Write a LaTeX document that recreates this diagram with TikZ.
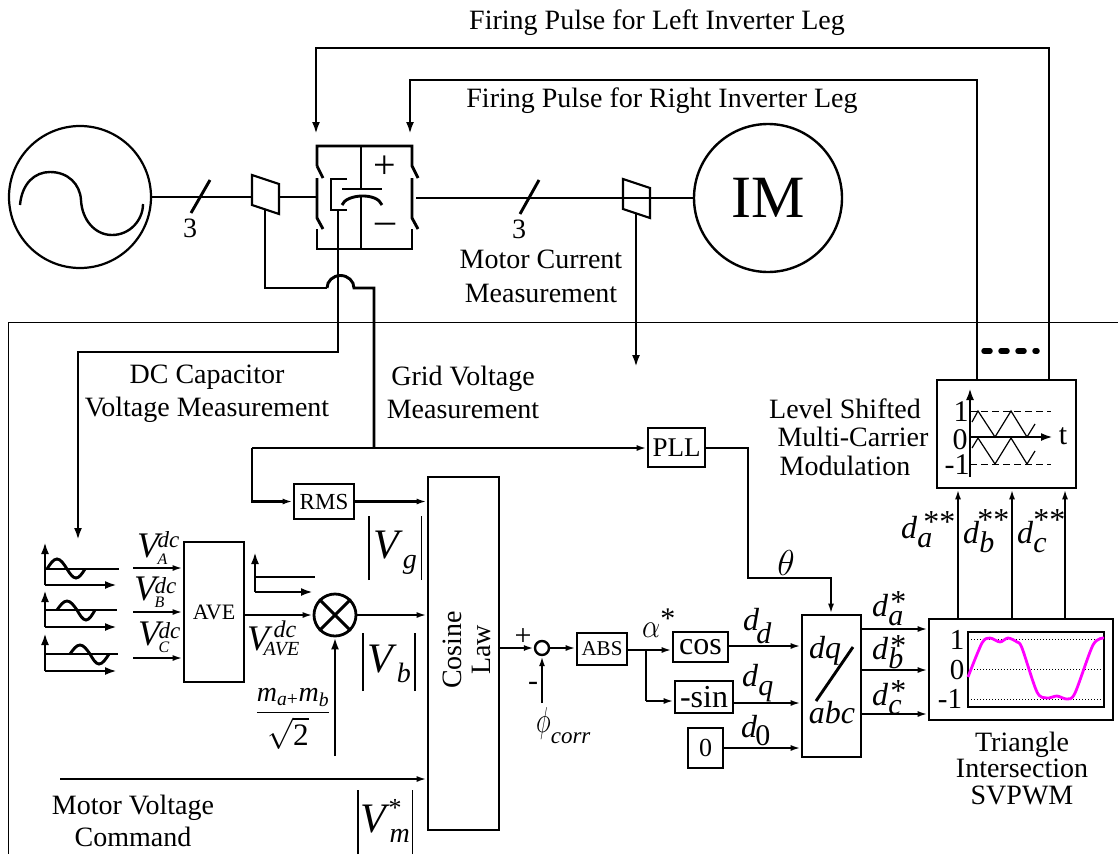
\documentclass[tikz,border=0pt]{standalone}
\usepackage{amsmath}
\usepackage{fontspec}
\setmainfont{Liberation Serif}
\usetikzlibrary{arrows.meta}
\definecolor{curvecol}{RGB}{255,0,255}
\newcommand{\fs}[1]{\fontsize{#1}{#1}\selectfont}
% sizes of the indices are set by hand, they are not math scripts in the picture
\newcommand{\vdc}[2]{\textit{V}\kern-5pt\rlap{\raisebox{#2}{\fs{23}\textit{dc}}}\raisebox{-7pt}{\fs{16}\textit{#1}}}
\newcommand{\dstar}[4]{\textit{d}\rlap{\hspace{#3}\raisebox{#4}{\fs{32}#2}}\raisebox{-9pt}{\fs{30}\textit{#1}}}
\newcommand{\dsub}[3]{\textit{d}\kern#1\raisebox{#2}{\fs{30}#3}}
\newcommand{\vbars}[3]{\rule[-#1]{1.6pt}{#2}\makebox[#3]}
\newcommand{\greek}[3]{\scalebox{#1}[#2]{\fs{12}$#3$}}
\tikzset{
	blockbox/.style={draw,line width=2.8pt,inner sep=0pt,font=\fs{22}},
	txt/.style={inner sep=0pt,align=center,font=\fs{28}},
	lab/.style={inner sep=0pt,anchor=base west,font=\fs{32}},
	sigline/.style={line width=2.9pt,-{Latex[length=12pt,width=8pt]}},
	smalline/.style={line width=2.6pt,-{Latex[length=10pt,width=6pt]}},
	wire/.style={line width=2.9pt},
	thinwire/.style={line width=1pt}
}
\begin{document}
\begin{tikzpicture}[x=1pt,y=-1pt]
	\useasboundingbox (0,0) rectangle (1118,854);

	% Control panel border
	\draw[thinwire] (1118,322) -- (8,322) -- (8,854);

	% Grid source
	\node[draw,circle,line width=2.2pt,minimum size=142pt,inner sep=0pt] (src) at (80,197) {};
	\draw[line width=2.4pt] (20,205) .. controls (22,183) and (35,172) .. (50,172) .. controls (68,172) and (80,184) .. (81,200) .. controls (82,220) and (95,235) .. (112,235) .. controls (130,235) and (143,220) .. (143,204);
	\coordinate (gridsensin) at (252,197);
	\coordinate (gridsensout) at (279,197);
	\coordinate (convin) at (316,197);
	\draw[wire] (src.east) -- (gridsensin);
	\draw[wire] (gridsensout) -- (convin);
	\draw[wire] (210,180) -- (191,213);
	\node[txt] (threeL) at (190,228) {3};
	\draw[line width=2.2pt] (252,175) -- (279,184) -- (279,214) -- (252,205) -- cycle;

	% Converter
	\draw[wire] (317,166) -- (317,146) -- (412,146) -- (412,166) -- (418,178);
	\draw[wire] (317,166) -- (323,178);
	\draw[wire] (317,178) -- (317,218) -- (323,229);
	\draw[wire] (317,229) -- (317,249) -- (412,249) -- (412,229);
	\draw[wire] (412,178) -- (412,218) -- (418,229);
	\draw[wire] (361,146) -- (361,189);
	\draw[wire] (361,197) -- (361,249);
	\draw[wire] (342,189) -- (382,189);
	\draw[wire] (342,205) .. controls (346,194) and (377,192) .. (382,205);
	\draw[wire] (347,179) -- (331,179) -- (331,210) -- (347,210);
	\node[txt,font=\fs{40}] (plus) at (385,167) {+};
	\node[txt,font=\fs{40}] (minus) at (385,228) {–};

	% Motor side
	\node[draw,circle,line width=2.4pt,minimum size=148pt,inner sep=0pt,font=\fs{60}] (im) at (768,198) {IM};
	\coordinate (convout) at (416,198);
	\draw[wire] (convout) -- (im.west);
	\draw[wire] (539,180) -- (520,214);
	\node[txt] (threeR) at (519,229) {3};
	\draw[line width=2.2pt] (623,179) -- (650,188) -- (650,218) -- (623,209) -- cycle;
	\node[txt] (motorcur) at (541,276) {Motor Current\\[6pt]Measurement};
	\coordinate (motorsens) at (636,214);
	\coordinate (motorend) at (636,367);
	\draw[sigline] (motorsens) -- (motorend);

	% Firing pulses
	\node[txt] (firingL) at (657,23) {Firing Pulse for Left Inverter Leg};
	\node[txt] (firingR) at (662,101) {Firing Pulse for Right Inverter Leg};
	\node[blockbox,minimum width=139pt,minimum height=108pt] (carrier) at (1006.5,434) {};
	\coordinate (legL) at (316,134);
	\coordinate (legR) at (410,134);
	\draw[sigline,{Latex[length=12pt,width=8pt]}-] (legL) |- (1049,48) -- (carrier.north -| 1049,0);
	\draw[sigline,{Latex[length=12pt,width=8pt]}-] (legR) |- (977,80) -- (carrier.north -| 977,0);
	\draw[line width=5.5pt,dash pattern=on 6pt off 11pt,line cap=round] (984,351) -- (1037,351);

	% Carrier plot
	\draw[line width=0.9pt,dash pattern=on 7pt off 4pt] (970,411) -- (1051,411);
	\draw[line width=0.9pt,dash pattern=on 7pt off 4pt] (970,464) -- (1051,464);
	\draw[line width=1.2pt] (972,422) -- (978,411) -- (995,437) -- (1011,411) -- (1027,437) -- (1035,424);
	\draw[line width=1.2pt] (972,448) -- (978,438) -- (995,464) -- (1011,438) -- (1027,464) -- (1035,451);
	\draw[sigline] (970,477) -- (970,388);
	\draw[sigline] (970,437) -- (1053,437);
	\node[txt,font=\fs{30}] (carone) at (961,412) {1};
	\node[txt,font=\fs{30}] (carzero) at (960,440) {0};
	\node[txt,font=\fs{30}] (carmone) at (957,465) {-1};
	\node[txt,font=\fs{30}] (cart) at (1063,436) {t};
	\node[txt] (levelshift) at (845,437) {Level Shifted\\[0.5pt]\hspace*{16pt}Multi-Carrier\\[0.5pt]Modulation};

	% Triangle intersection block
	\node[blockbox,minimum width=184pt,minimum height=101pt] (svpwm) at (1021,669.5) {};
	\draw[line width=1pt,dotted] (968,639) -- (1104,639);
	\draw[line width=1pt,dotted] (968,669) -- (1104,669);
	\draw[line width=1pt,dotted] (968,699) -- (1104,699);
	\draw[line width=2.6pt] (968,632) rectangle (1104,707);
	\draw[curvecol,line width=2.8pt,line join=round] plot[smooth,tension=0.5] coordinates {(968,677) (982,643) (990,638) (1000,642) (1008,638) (1017,642) (1022,648) (1037,692) (1047,698) (1057,696) (1067,699) (1075,693) (1093,645) (1104,638)};
	\node[txt,font=\fs{29}] (svone) at (957,640) {1};
	\node[txt,font=\fs{29}] (svzero) at (957,670) {0};
	\node[txt,font=\fs{29}] (svmone) at (950,699) {-1};
	\node[txt] (svtext) at (1022,768) {Triangle\\[-1.5pt]Intersection\\[-1.5pt]SVPWM};
	\coordinate (outa) at (958,619);
	\coordinate (outb) at (1012,619);
	\coordinate (outc) at (1065,619);
	\draw[smalline] (svpwm.north -| outa) -- (carrier.south -| outa);
	\draw[smalline] (svpwm.north -| outb) -- (carrier.south -| outb);
	\draw[smalline] (svpwm.north -| outc) -- (carrier.south -| outc);
	\node[lab] (daa) at (901,538) {\dstar{a}{**}{6pt}{6pt}};
	\node[lab] (dbb) at (963,543) {\dstar{b}{**}{-2pt}{13pt}};
	\node[lab] (dcc) at (1017,543) {\dstar{c}{**}{0pt}{13pt}};

	% Dq to abc block
	\node[blockbox,minimum width=59pt,minimum height=142pt] (dqabc) at (831.5,686) {};
	\draw[wire] (853,647) -- (816,701);
	\node[txt,font=\fs{32}] (dqtxt) at (825,651) {\textit{dq}};
	\node[txt,font=\fs{32}] (abctxt) at (832,713) {\textit{abc}};
	\coordinate (sa) at (861,629);
	\coordinate (sb) at (861,670);
	\coordinate (sc) at (861,714);
	\draw[smalline] (sa) -- (svpwm.west |- sa);
	\draw[smalline] (sb) -- (svpwm.west |- sb);
	\draw[smalline] (sc) -- (svpwm.west |- sc);
	\node[lab] (da) at (872,616) {\dstar{a}{*}{2pt}{4pt}};
	\node[lab] (db) at (872,659) {\dstar{b}{*}{2pt}{3pt}};
	\node[lab] (dc) at (872,705) {\dstar{c}{*}{2pt}{4pt}};

	% Angle path
	\node[blockbox,minimum width=50pt,minimum height=32pt,font=\fs{21}] (abs) at (602,649) {ABS};
	\node[blockbox,minimum width=55pt,minimum height=30pt,font=\fs{32}] (cosb) at (700.5,647) {cos};
	\node[blockbox,minimum width=58pt,minimum height=32pt,font=\fs{32}] (sinb) at (704,697) {-sin};
	\node[blockbox,minimum width=35pt,minimum height=40pt,font=\fs{26}] (zero) at (705.5,748) {0};
	\node[draw,circle,line width=2.4pt,minimum size=14pt,inner sep=0pt] (sumj) at (542,648) {};
	\coordinate (branch) at (646,650);
	\coordinate (sinin) at (646,701);
	\draw[smalline] (abs.east |- branch) -- (cosb.west |- branch);
	\draw[wire] (branch) -- (sinin);
	\draw[smalline] (sinin) -- (sinb.west |- sinin);
	\coordinate (cosout) at (728,646);
	\coordinate (sinout) at (733,703);
	\draw[smalline] (cosout) -- (dqabc.west |- cosout);
	\draw[smalline] (sinout) -- (dqabc.west |- sinout);
	\draw[smalline] (zero.east) -- (dqabc.west |- zero.east);
	\draw[smalline] (sumj.east) -- (abs.west |- sumj.east);
	\coordinate (phiin) at (542,703);
	\draw[smalline] (phiin) -- (sumj.south);
	\node[txt,font=\fs{30}] (sumplus) at (523,637) {+};
	\node[txt,font=\fs{30}] (summinus) at (533,686) {-};
	\node[lab] (phic) at (536,732) {\greek{2.1}{3}{\phi}\raisebox{-11pt}{\fs{23}\textit{corr}}};
	\node[lab] (alpha) at (642,637) {\greek{2.4}{2.8}{\alpha}\raisebox{9pt}{\fs{30}*}};
	\node[lab] (dd) at (743,630) {\dsub{-3pt}{-13pt}{\textit{d}}};
	\node[lab] (dq) at (742,686) {\dsub{0pt}{-9pt}{\textit{q}}};
	\node[lab] (dz) at (741,737) {\dsub{-2pt}{-8pt}{0}};

	% Cosine law block
	\node[blockbox,minimum width=71pt,minimum height=353pt] (cosine) at (463.5,653.5) {};
	\node[txt,rotate=90] (cosinetxt) at (467,650) {Cosine\\[1pt]Law};
	\draw[smalline] (cosine.east |- sumj.west) -- (sumj.west);

	% PLL and grid voltage
	\node[blockbox,minimum width=57pt,minimum height=39pt,font=\fs{27}] (pll) at (676.5,447.5) {PLL};
	\node[blockbox,minimum width=60pt,minimum height=35pt,font=\fs{23}] (rms) at (324,501.5) {RMS};
	\coordinate (gridbus) at (252,448);
	\coordinate (gridtap) at (374,448);
	\coordinate (thetaturn) at (748,578);
	\draw[smalline] (gridbus) -- (pll.west |- gridbus);
	\draw[smalline] (gridbus) |- (rms.west);
	\draw[smalline] (rms.east) -- (cosine.west |- rms.east);
	\draw[smalline] (pll.east |- gridbus) -| (thetaturn) -| (dqabc.north -| 831,0);
	\node[txt] (theta) at (786,563) {\greek{3}{3}{\theta}};
	\draw[wire] (gridsensin) ++(13,13) |- (327,288);
	\draw[wire] (327,288) arc[start angle=180,end angle=360,x radius=13.5,y radius=12.5] -- (374,288) -- (gridtap);
	\node[txt] (gridtxt) at (463,392.5) {Grid Voltage\\[5pt]Measurement};

	% Capacitor measurement
	\coordinate (captap) at (338,210);
	\coordinate (capturn) at (338,352);
	\coordinate (capend) at (78,540);
	\draw[sigline] (captap) -- (capturn) -| (capend);
	\node[txt] (captxt) at (207,393.5) {DC Capacitor\\[5pt]Voltage Measurement};

	% Dc-link waveforms
	\draw[sigline] (45,585) -- (45,542);
	\draw[sigline] (45,585) -- (117,585);
	\draw[wire] (45,569) -- (119,569);
	\draw[wire] (47,569) sin (57,559) cos (67,569) sin (76,578) cos (85,569);
	\draw[sigline] (45,627) -- (45,590);
	\draw[sigline] (45,627) -- (117,627);
	\draw[wire] (45,610) -- (117,610);
	\draw[wire] (57,610) sin (67,601) cos (77,610) sin (86,620) cos (95,610);
	\draw[sigline] (45,671) -- (45,633);
	\draw[sigline] (45,671) -- (117,671);
	\draw[wire] (45,654) -- (118,654);
	\draw[wire] (70,654) sin (80,645) cos (90,654) sin (99,664) cos (109,654);

	% Averaging
	\node[blockbox,minimum width=60pt,minimum height=140pt] (ave) at (214,612) {AVE};
	\coordinate (inA) at (133,568);
	\coordinate (inB) at (133,612);
	\coordinate (inC) at (133,658);
	\draw[smalline] (inA) -- (ave.west |- inA);
	\draw[smalline] (inB) -- (ave.west |- inB);
	\draw[smalline] (inC) -- (ave.west |- inC);
	\node[lab,font=\fs{36}] (va) at (137,557) {\vdc{A}{10pt}};
	\node[lab,font=\fs{36}] (vb) at (134,600) {\vdc{B}{7pt}};
	\node[lab,font=\fs{36}] (vc) at (138,645) {\vdc{C}{7pt}};
	\node[draw,circle,line width=2.8pt,minimum size=42pt,inner sep=0pt] (mult) at (335,615) {};
	\draw[wire] (mult.north west) -- (mult.south east);
	\draw[wire] (mult.north east) -- (mult.south west);
	\draw[smalline] (ave.east |- mult.west) -- (mult.west);
	\draw[smalline] (mult.east) -- (cosine.west |- mult.east);
	\draw[sigline] (255,592) -- (255,552);
	\draw[sigline] (255,592) -- (313,592);
	\draw[wire] (255,577) -- (315,577);
	\node[lab,font=\fs{36}] (vave) at (247,650) {\textit{V}\kern-9pt\rlap{\hspace{10pt}\raisebox{13pt}{\fs{24}\textit{dc}}}\raisebox{-5pt}{\fs{20}\textit{AVE}}};
	\coordinate (modin) at (335,756);
	\draw[sigline] (modin) -- (mult.south);
	\node[txt,font=\fs{28}] (modfrac) at (293,719) {$\genfrac{}{}{1.4pt}{0}{\textit{m}_{\textit{a}\text{+}}\textit{m}_{\textit{b}}}{\scalebox{2.6}{\fs{12}$\sqrt{\text{2}}$}}$};
	\node[inner sep=0pt] (vg) at (395,548) {\vbars{32pt}{64pt}{51pt}{\raisebox{-10pt}{\fs{42}\textit{V}\raisebox{-10pt}{\fs{28}\textit{g}}}}\rule[-32pt]{1.6pt}{64pt}};
	\node[inner sep=0pt] (vbn) at (389,662) {\vbars{29pt}{58pt}{50pt}{\raisebox{-10pt}{\fs{42}\textit{V}\raisebox{-10pt}{\fs{28}\textit{b}}}}\rule[-29pt]{1.6pt}{58pt}};
	\node[inner sep=0pt] (vm) at (385,822) {\vbars{32pt}{64pt}{53pt}{\raisebox{-10pt}{\fs{42}\textit{V}\rlap{\hspace{-1pt}\raisebox{16pt}{\fs{26}*}}\raisebox{-10pt}{\fs{28}\textit{m}}}}\rule[-32pt]{1.6pt}{64pt}};

	% Motor voltage command
	\coordinate (cmdstart) at (60,779);
	\draw[smalline] (cmdstart) -- (cosine.west |- cmdstart);
	\node[txt] (cmdtxt) at (133,821) {Motor Voltage\\[4pt]Command};
\end{tikzpicture}
\end{document}
